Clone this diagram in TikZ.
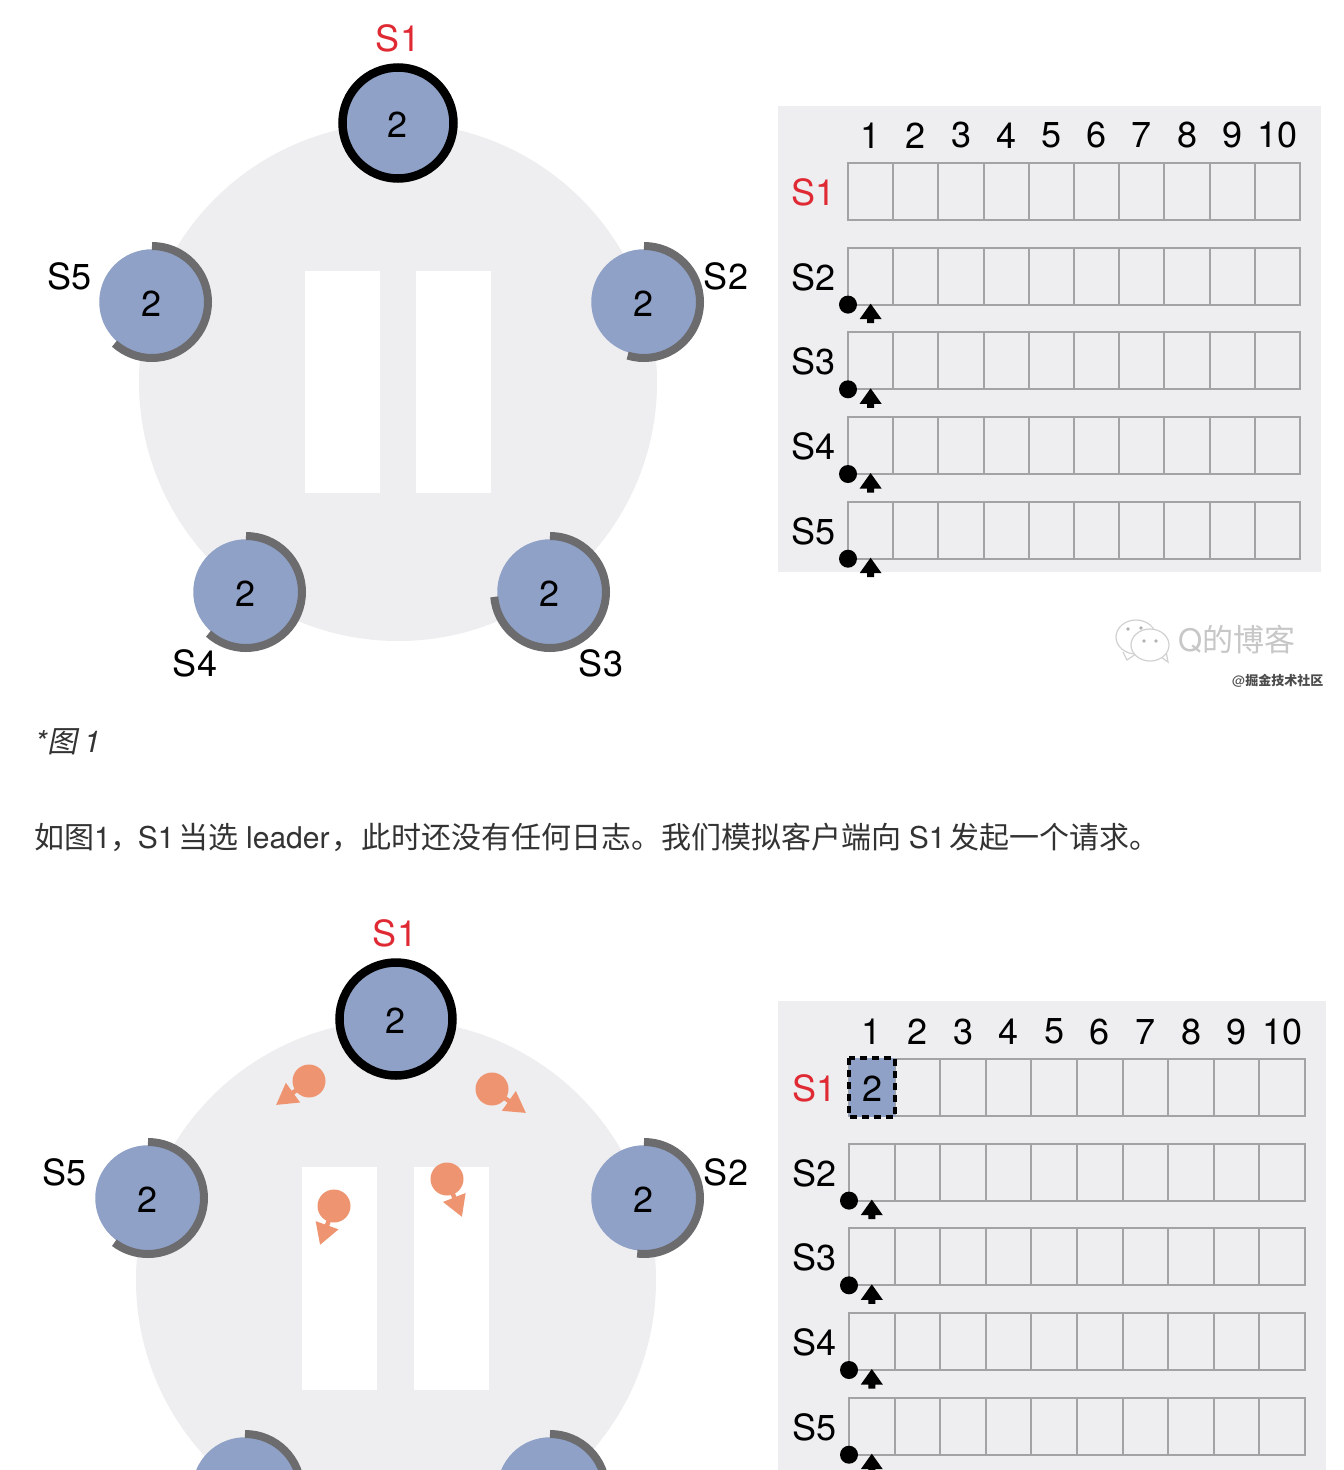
\documentclass[tikz,border=0pt]{standalone}
\usepackage{fontspec}
\usetikzlibrary{arrows.meta}
\setmainfont{TeX Gyre Heros}
\newfontfamily\cjk{Noto Sans CJK SC}
\newfontfamily\cjkslant[FakeSlant=0.2]{Noto Sans CJK SC}
\definecolor{panelgray}{HTML}{EEEEF0}
\definecolor{bluefill}{HTML}{8FA1C7}
\definecolor{ringgray}{HTML}{6C6C6E}
\definecolor{gridgray}{HTML}{A3A3A5}
\definecolor{redlabel}{HTML}{DF2A33}
\definecolor{orangefill}{HTML}{EE9470}
\definecolor{bodytext}{HTML}{333333}
\newcommand{\fs}[1]{\fontsize{#1}{#1}\selectfont}
\newcommand{\dig}{\raisebox{-2pt}[\height][0pt]{\hspace*{-1pt}2}}
\tikzset{
  x=1pt,y=-1pt,
  bluecirc/.style={circle,fill=bluefill,minimum size=105.5pt,inner sep=0pt,text=black,font=\fs{36}},
  leadercirc/.style={circle,fill=bluefill,draw=black,line width=8.5pt,minimum size=111pt,inner sep=0pt,text=black,font=\fs{36}},
  ringarc/.style={draw=ringgray,line width=8pt},
  srvlabel/.style={font=\fs{36},inner sep=0pt,text=black},
  redsrv/.style={font=\fs{36},inner sep=0pt,text=redlabel},
  hdrlabel/.style={font=\fs{36},inner sep=0pt,text=black},
  logcell/.style={draw=gridgray,line width=2pt},
  nextdot/.style={circle,fill=black,minimum size=18pt,inner sep=0pt},
  whitebar/.style={fill=white},
  bigdisc/.style={fill=panelgray},
  rpcdot/.style={circle,fill=orangefill,minimum size=33pt,inner sep=0pt},
  rpcarrow/.style={draw=orangefill,line width=4.5pt,-{Triangle[length=21pt,width=23pt,fill=orangefill]}},
  bubble/.style={draw=black!18,fill=white,line width=1.2pt},
}
% spade-like match pointer: #1 tip x, #2 tip y
\newcommand{\matchptr}[2]{%
  \fill[black] (#1,#2) -- (#1+11,#2+15.5) -- (#1+3.5,#2+15.5) -- (#1+3.5,#2+19.5) -- (#1-3.5,#2+19.5) -- (#1-3.5,#2+15.5) -- (#1-11,#2+15.5) -- cycle;}
% log table: #1 prefix, #2 left x, #3 cell width, #4 header y
\newcommand{\logtable}[4]{%
  \foreach \c in {1,...,10} {
    \node[hdrlabel] (#1h\c) at ({#2+(\c-0.5)*#3},#4+0.5) {\c};
  }
  \foreach \r/\t/\lab [count=\i] in {1/0/S1,2/84.6/S2,3/169.3/S3,4/254/S4,5/338.7/S5} {
    \foreach \c in {1,...,10} {
      \draw[logcell] ({#2+(\c-1)*#3},#4+28+\t) rectangle ({#2+\c*#3},#4+28+\t+57);
    }
    \ifnum\r=1
      \node[redsrv,anchor=west] (#1l\r) at (#2-57,#4+28+\t+29.5) {\lab};
    \else
      \node[srvlabel,anchor=west] (#1l\r) at (#2-57,#4+28+\t+29.5) {\lab};
      \node[nextdot] (#1n\r) at (#2,#4+28+\t+57) {};
      \matchptr{#2+#3/2}{#4+28+\t+56}
    \fi
  }
}
\begin{document}
\begin{tikzpicture}
\clip (0,0) rectangle (1344,1470);
\fill[white] (0,0) rectangle (1344,1470);

% ---------- Figure 1 ----------
\fill[bigdisc] (398,382) circle[radius=259pt];
\fill[whitebar] (305,271) rectangle (380,493);
\fill[whitebar] (416,271) rectangle (491,493);

\node[leadercirc] (as1) at (398,123) {\raisebox{-2pt}[\height][0pt]{2}};
\node[redsrv] (als1) at (398,38) {S1};

\foreach \n/\x/\y/\sweep in {5/152/302/-222,2/644/302/-197,3/550/592/-265,4/246/592/-222} {
  \node[bluecirc] (as\n) at (\x,\y) {\dig};
  \draw[ringarc] (\x,\y-56) arc[start angle=90,delta angle=\sweep,radius=56pt];
}
\node[srvlabel] (als5) at (70,276) {S5};
\node[srvlabel] (als2) at (726,276) {S2};
\node[srvlabel] (als3) at (601,663) {S3};
\node[srvlabel] (als4) at (195,663) {S4};

\fill[panelgray] (778,106) rectangle (1321,572);
\logtable{a}{848}{45.2}{135}

% watermark
\draw[bubble] (1123,652) -- (1127,660) -- (1136,654);
\draw[bubble] (1136,637) ellipse[x radius=20pt,y radius=17pt];
\draw[bubble] (1161,657) -- (1168,662) -- (1166,651);
\draw[bubble] (1150,645) ellipse[x radius=19pt,y radius=16pt];
\fill[black!30] (1128,629) circle[radius=1.8pt] (1141,628) circle[radius=1.8pt] (1144,641) circle[radius=1.8pt] (1156,641) circle[radius=1.8pt];
\node[inner sep=0pt,anchor=west,text=black!22,font=\fs{31}] (wm) at (1178,640) {Q{\cjk 的博客}};
\node[inner sep=0pt,anchor=west,text=black!70,font=\fs{13}] (wm2) at (1232,681) {@{\cjk\bfseries 掘金技术社区}};

% ---------- text ----------
\node[inner sep=0pt,anchor=west,text=bodytext,font=\fs{30}] (cap) at (35,741.5) {\textit{*}{\cjkslant 图}\hspace{6pt}\textit{1}};
\node[inner sep=0pt,anchor=west,text=bodytext,font=\fs{30}] (para) at (34,837) {{\cjk 如图}1{\cjk ，}\hspace{-3pt}S1\hspace{4.3pt}{\cjk 当选}\hspace{7.3pt}leader\hspace{2pt}{\cjk ，此时还没有任何日志。我们模拟客户端向}\hspace{7.3pt}S1\hspace{4pt}{\cjk 发起一个请求。}};

% ---------- Figure 2 ----------
\fill[bigdisc] (396,1280) circle[radius=260pt];
\fill[whitebar] (302,1167) rectangle (377,1390);
\fill[whitebar] (414,1167) rectangle (489,1390);

\node[leadercirc,minimum size=113pt] (bs1) at (396,1019) {\dig};
\node[redsrv] (bls1) at (395,933) {S1};

\foreach \n/\x/\y/\sweep in {5/148/1198/-217,2/644/1198/-187} {
  \node[bluecirc] (bs\n) at (\x,\y) {\dig};
  \draw[ringarc] (\x,\y-56) arc[start angle=90,delta angle=\sweep,radius=56pt];
}
\foreach \n/\x/\y in {3/550/1490,4/245/1490} {
  \node[bluecirc] (bs\n) at (\x,\y) {};
  \draw[ringarc] (\x,\y-56) arc[start angle=90,delta angle=-120,radius=56pt];
}
\node[srvlabel] (bls5) at (65,1172) {S5};
\node[srvlabel] (bls2) at (726,1172) {S2};

\foreach \k/\cx/\cy/\tx/\ty in {1/309/1081/276/1105,2/492/1089/526/1113,3/334/1206/320/1245,4/447/1179/462/1217} {
  \node[rpcdot] (rpc\k) at (\cx,\cy) {};
  \coordinate (tip\k) at (\tx,\ty);
  \draw[rpcarrow] (rpc\k.center) -- (tip\k);
}

\fill[panelgray] (778,1001) rectangle (1326,1470);
\logtable{b}{849}{45.6}{1031}
\draw[fill=bluefill,draw=none] (849,1058) rectangle (895,1117);
\node[font=\fs{36},inner sep=0pt] (bcell) at (872,1089) {2};
\draw[black,line width=4pt,dash pattern=on 7pt off 5pt,line cap=butt] (849,1058) rectangle (895,1117);
\end{tikzpicture}
\end{document}
